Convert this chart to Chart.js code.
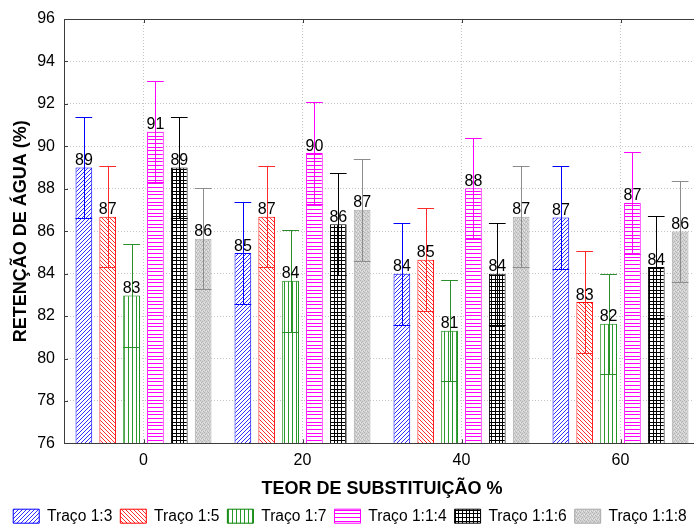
<!DOCTYPE html>
<html>
<head>
<meta charset="utf-8">
<script src="https://cdn.jsdelivr.net/npm/chart.js@4/dist/chart.umd.min.js"></script>
<style>
  html, body { margin: 0; padding: 0; background: #fff; overflow: hidden; }
  #frame { width: 694px; height: 524px; overflow: hidden; position: relative; }
  #c { display: block; }
</style>
</head>
<body>
<div id="frame"><canvas id="c" width="700" height="534"></canvas></div>
<script>
// Categories (substitution content, %) and series names
const categories = ['0', '20', '40', '60'];
const seriesNames = ['Traço 1:3', 'Traço 1:5', 'Traço 1:7', 'Traço 1:1:4', 'Traço 1:1:6', 'Traço 1:1:8'];

// Mean water retention (%) per mix
const traco13  = [89.00, 84.97, 83.99, 86.64];
const traco15  = [86.68, 86.68, 84.65, 82.66];
const traco17  = [82.97, 83.66, 81.31, 81.64];
const traco114 = [90.69, 89.68, 88.02, 87.33];
const traco116 = [89.00, 86.33, 83.99, 84.31];
const traco118 = [85.65, 87.01, 86.68, 85.98];

// Standard deviation per mix
const sd13  = [2.39, 2.39, 2.39, 2.41];
const sd15  = [2.37, 2.37, 2.42, 2.39];
const sd17  = [2.41, 2.39, 2.38, 2.36];
const sd114 = [2.39, 2.40, 2.39, 2.40];
const sd116 = [2.39, 2.40, 2.39, 2.42];
const sd118 = [2.39, 2.40, 2.37, 2.38];

// Value axis
const yMin = 76, yMax = 96, yStep = 2;

const FONT = "'Liberation Sans', Arial, sans-serif";

// Hatch fills built pixel by pixel on a small tile
function makePattern(kind, color, bg) {
  const size = { up: 4, down: 4, vert: 4, horiz: 11, grid: 11, dots: 4 }[kind];
  const t = document.createElement('canvas');
  t.width = size; t.height = size;
  const g = t.getContext('2d');
  g.fillStyle = bg; g.fillRect(0, 0, size, size);
  g.fillStyle = color;
  const rows = [0, 4, 7];
  if (kind === 'up')   for (let i = 0; i < size; i++) g.fillRect(i, size - 1 - i, 1, 1);
  if (kind === 'down') for (let i = 0; i < size; i++) g.fillRect(i, i, 1, 1);
  if (kind === 'vert') g.fillRect(0, 0, 1, size);
  if (kind === 'horiz') rows.forEach(r => g.fillRect(0, r, size, 1));
  if (kind === 'grid') rows.forEach(r => { g.fillRect(0, r, size, 1); g.fillRect(r, 0, 1, size); });
  if (kind === 'dots') {
    g.fillRect(0, 0, 1, 1); g.fillRect(2, 1, 1, 1); g.fillRect(1, 2, 1, 1); g.fillRect(3, 3, 1, 1);
    g.fillStyle = '#e6e6e6'; g.fillRect(2, 3, 1, 1); g.fillRect(0, 2, 1, 1);
  }
  return t.getContext('2d').createPattern(t, 'repeat');
}

const values = [traco13, traco15, traco17, traco114, traco116, traco118];
const errors = [sd13, sd15, sd17, sd114, sd116, sd118];
const borderColors = ['#0000ff', '#ff0000', '#008000', '#ff00ff', '#000000', '#a8a8a8'];
const errColors    = ['#0000ff', '#ff2a2a', '#2a8f2a', '#ff00ff', '#000000', '#8c8c8c'];
const fills = [
  makePattern('up', '#3030ff', '#ffffff'),
  makePattern('down', '#ff3030', '#ffffff'),
  makePattern('vert', '#2a9a2a', '#ffffff'),
  makePattern('horiz', '#ff00ff', '#ffffff'),
  makePattern('grid', '#000000', '#ffffff'),
  makePattern('dots', '#b4b4b4', '#d2d2d2')
];

const datasets = values.map((vals, i) => ({
  label: seriesNames[i],
  data: vals,
  backgroundColor: fills[i],
  borderColor: borderColors[i],
  borderWidth: 1,
  borderSkipped: false,
  categoryPercentage: 0.9,
  barPercentage: 0.7
}));

// Error bars (mean ± SD) and rounded value labels on each bar
const barDecor = {
  id: 'barDecor',
  afterDatasetsDraw(chart) {
    const ctx = chart.ctx, y = chart.scales.y;
    ctx.save();
    chart.data.datasets.forEach((ds, i) => {
      const meta = chart.getDatasetMeta(i);
      meta.data.forEach((bar, j) => {
        const v = values[i][j], e = errors[i][j];
        const yt = Math.round(y.getPixelForValue(v + e)) + 0.5;
        const yb = Math.round(y.getPixelForValue(v - e)) + 0.5;
        const x = Math.round(bar.x) + 0.5;
        const hw = bar.width / 2;
        ctx.strokeStyle = errColors[i];
        ctx.lineWidth = 1;
        ctx.beginPath();
        ctx.moveTo(x, yt); ctx.lineTo(x, yb);
        ctx.moveTo(bar.x - hw, yt); ctx.lineTo(bar.x + hw, yt);
        ctx.moveTo(bar.x - hw, yb); ctx.lineTo(bar.x + hw, yb);
        ctx.stroke();
      });
    });
    ctx.fillStyle = '#000';
    ctx.font = '16px ' + FONT;
    ctx.textAlign = 'center';
    ctx.textBaseline = 'alphabetic';
    chart.data.datasets.forEach((ds, i) => {
      chart.getDatasetMeta(i).data.forEach((bar, j) => {
        ctx.fillText(String(Math.round(values[i][j])), bar.x, bar.y - 2.5);
      });
    });
    ctx.restore();
  },
  afterDraw(chart) {
    const ctx = chart.ctx, a = chart.chartArea;
    const xs = chart.scales.x, ys = chart.scales.y;
    ctx.save();
    ctx.strokeStyle = '#3c3c3c';
    ctx.lineWidth = 1;
    ctx.strokeRect(Math.round(a.left) + 0.5, Math.round(a.top) + 0.5,
                   Math.round(a.right - a.left) - 1, Math.round(a.bottom - a.top));
    ctx.beginPath();
    ys.ticks.forEach(t => {
      const py = Math.round(ys.getPixelForValue(t.value)) + 0.5;
      ctx.moveTo(a.left, py); ctx.lineTo(a.left + 4, py);
      ctx.moveTo(a.right, py); ctx.lineTo(a.right - 4, py);
    });
    xs.ticks.forEach((t, k) => {
      const px = Math.round(xs.getPixelForTick(k)) + 0.5;
      ctx.moveTo(px, a.bottom); ctx.lineTo(px, a.bottom - 4);
      ctx.moveTo(px, a.top); ctx.lineTo(px, a.top + 4);
    });
    ctx.stroke();
    ctx.restore();
  }
};

Chart.defaults.font.family = FONT;
Chart.defaults.color = '#000';

new Chart(document.getElementById('c'), {
  type: 'bar',
  data: { labels: categories, datasets },
  options: {
    responsive: false,
    animation: false,
    events: [],
    layout: { padding: { top: 19, left: 0, right: 0, bottom: 0 } },
    plugins: {
      tooltip: { enabled: false },
      legend: {
        position: 'bottom',
        labels: {
          boxWidth: 26,
          boxHeight: 14,
          padding: 8,
          color: '#000',
          font: { size: 15.6, family: FONT }
        }
      }
    },
    scales: {
      x: {
        grid: { offset: false, color: '#c4c4c4', lineWidth: 1, drawTicks: false },
        border: { display: false, dash: [1, 2] },
        ticks: { padding: 8, color: '#000', font: { size: 16 } },
        title: {
          display: true,
          text: 'TEOR DE SUBSTITUIÇÃO %',
          color: '#000',
          font: { size: 18, weight: 'bold' },
          padding: { top: 0, bottom: 1 }
        },
        afterFit(s) { s.height = 57; }
      },
      y: {
        min: yMin,
        max: yMax,
        ticks: { stepSize: yStep, padding: 9, color: '#000', font: { size: 16 } },
        grid: { color: '#c4c4c4', lineWidth: 1, drawTicks: false },
        border: { display: false, dash: [1, 2] },
        title: {
          display: true,
          text: 'RETENÇÃO DE ÁGUA (%)',
          color: '#000',
          font: { size: 18, weight: 'bold' },
          padding: { top: 10, bottom: 0 }
        },
        afterFit(s) { s.width = 64; }
      }
    }
  },
  plugins: [barDecor]
});
</script>
</body>
</html>
